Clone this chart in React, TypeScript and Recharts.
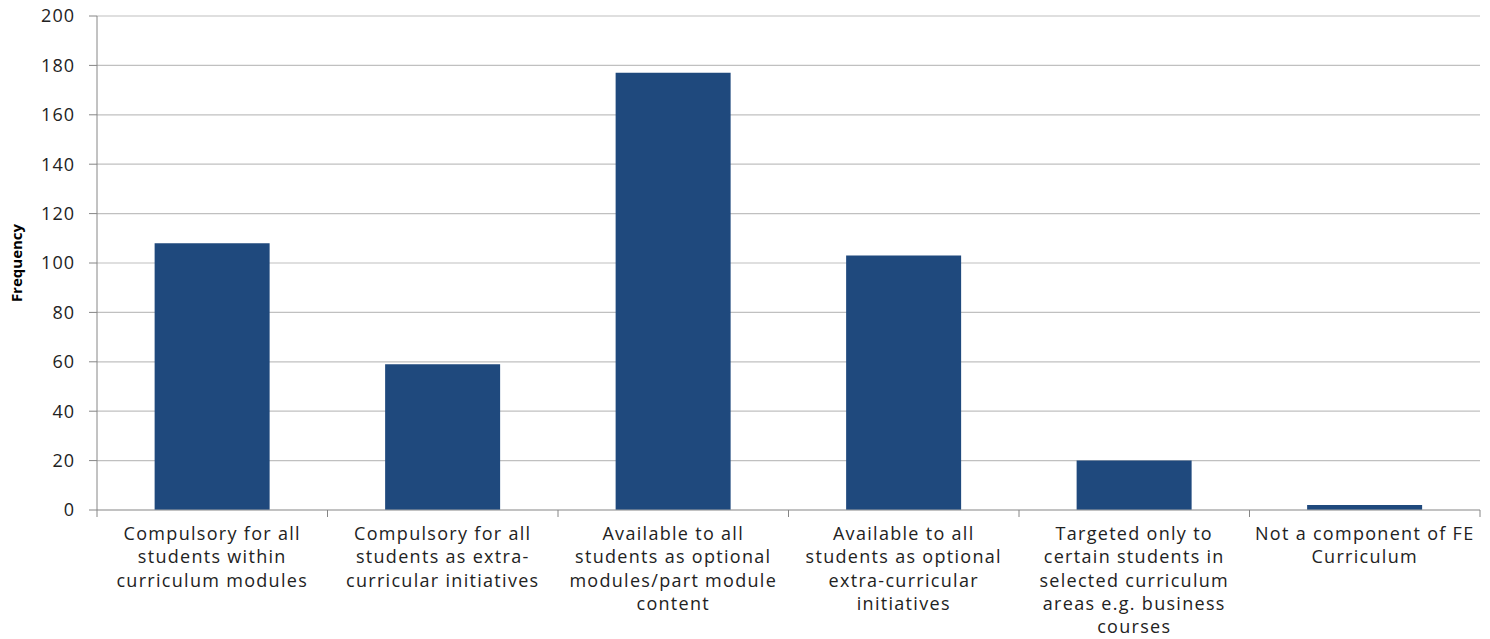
import { BarChart, Bar, XAxis, YAxis, CartesianGrid, Label } from "recharts";

const categories = [
    ["Compulsory for all", "students within", "curriculum modules"],
    ["Compulsory for all", "students as extra-", "curricular initiatives"],
    ["Available to all", "students as optional", "modules/part module", "content"],
    ["Available to all", "students as optional", "extra-curricular", "initiatives"],
    ["Targeted only to", "certain students in", "selected curriculum", "areas e.g. business", "courses"],
    ["Not a component of FE", "Curriculum"],
];
const frequency = [108, 59, 177, 103, 20, 2];
const yTicks = [0, 20, 40, 60, 80, 100, 120, 140, 160, 180, 200];

const data = categories.map((lines, i) => ({ name: lines.join(" "), lines, value: frequency[i] }));

const FONT = "'Open Sans', sans-serif";

function CategoryTick(props: any) {
    const { x, y, payload, width, visibleTicksCount, index } = props;
    const band = width / visibleTicksCount;
    const lines: string[] = data[payload.index ?? index].lines;
    return (
        <g>
            <line x1={x - band / 2} x2={x - band / 2} y1={y - 8} y2={y - 1} stroke="#868686" />
            {index === visibleTicksCount - 1 && (
                <line x1={x + band / 2} x2={x + band / 2} y1={y - 8} y2={y - 1} stroke="#868686" />
            )}
            <text x={x} y={y + 22} textAnchor="middle" fill="#222" fontFamily={FONT} fontSize={18} letterSpacing={1.3}>
                {lines.map((l, i) => (
                    <tspan key={i} x={x} dy={i === 0 ? 0 : 23.3}>
                        {l}
                    </tspan>
                ))}
            </text>
        </g>
    );
}

export default function App() {
    return (
        <div style={{ position: "absolute", left: 0, top: 0, width: 1490, height: 639, background: "#fff" }}>
            <BarChart
                width={1490}
                height={639}
                data={data}
                margin={{ top: 16, right: 10, bottom: 0, left: 37 }}
                barCategoryGap="25%"
            >
                <CartesianGrid horizontal vertical={false} stroke="#c0c0c0" strokeWidth={1.2} />
                <XAxis
                    dataKey="name"
                    interval={0}
                    height={129}
                    tickLine={false}
                    axisLine={{ stroke: "#a6a6a6", strokeWidth: 1.2 }}
                    tick={<CategoryTick />}
                />
                <YAxis
                    width={60}
                    domain={[0, 200]}
                    ticks={yTicks}
                    interval={0}
                    tickSize={8}
                    tickMargin={14}
                    axisLine={{ stroke: "#868686" }}
                    tickLine={{ stroke: "#868686" }}
                    tick={{ fill: "#222", fontFamily: FONT, fontSize: 18, letterSpacing: 1 }}
                >
                    <Label
                        value="Frequency"
                        angle={-90}
                        position="insideLeft"
                        offset={-20}
                        style={{ fontFamily: FONT, fontSize: 15, fontWeight: 700, fill: "#000", textAnchor: "middle" }}
                    />
                </YAxis>
                <Bar dataKey="value" fill="#1F497D" isAnimationActive={false} />
            </BarChart>
        </div>
    );
}
